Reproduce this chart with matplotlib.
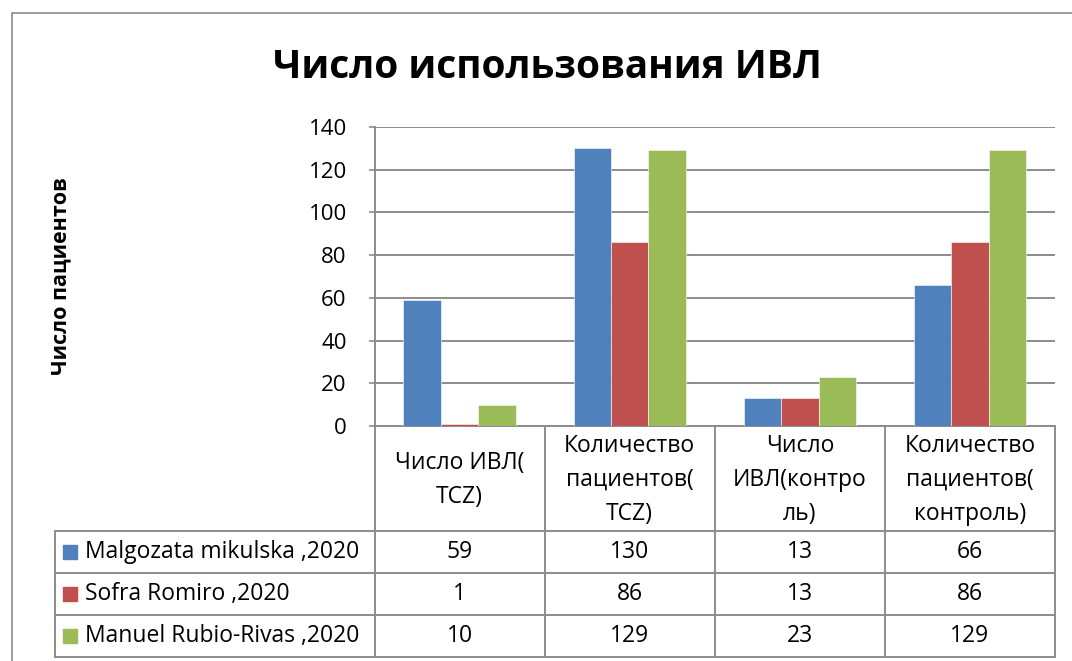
import matplotlib.pyplot as plt
from matplotlib.patches import Rectangle

plt.rcParams['font.family'] = ['Open Sans', 'DejaVu Sans']

# data
categories = ["Число ИВЛ(\nTCZ)", "Количество\nпациентов(\nTCZ)",
              "Число\nИВЛ(контро\nль)", "Количество\nпациентов(\nконтроль)"]
series_names = ["Malgozata mikulska ,2020", "Sofra Romiro ,2020",
                "Manuel Rubio-Rivas ,2020"]
mikulska = [59, 130, 13, 66]
romiro = [1, 86, 13, 86]
rubio = [10, 129, 23, 129]
colors = ["#4F81BD", "#C0504D", "#9BBB59"]
yticks = [0, 20, 40, 60, 80, 100, 120, 140]

series = [mikulska, romiro, rubio]

W, H = 1072, 661
fig = plt.figure(figsize=(W / 100, H / 100), dpi=100)

# outer chart border (cut off at right/bottom like the screenshot)
fig.patches.append(Rectangle((12 / W, -0.1), 1.2, 1.1 - 13 / H, transform=fig.transFigure,
                             fill=False, edgecolor="#8a8a8a", lw=1.2))

left, right, top, bottom = 374.5, 1055, 127, 426
ax = fig.add_axes([left / W, 1 - bottom / H, (right - left) / W, (bottom - top) / H])

n = len(categories)
bw = 0.22
for k, vals in enumerate(series):
    xs = [i + (k - 1) * bw for i in range(n)]
    ax.bar(xs, vals, width=bw, color=colors[k], edgecolor="white", linewidth=0.4, zorder=3)

ax.set_xlim(-0.5, n - 0.5)
ax.set_ylim(0, 140)
ax.set_yticks(yticks)
ax.set_xticks([])
ax.yaxis.grid(True, color="#8c8c8c", linewidth=1.4, zorder=0)
for s in ["top", "right"]:
    ax.spines[s].set_visible(False)
for s in ["left", "bottom"]:
    ax.spines[s].set_color("#8c8c8c")
    ax.spines[s].set_linewidth(1.4)
ax.tick_params(axis="y", length=4, color="#8c8c8c", width=1.2, pad=16, labelsize=16)

fig.text(547 / W, 1 - 78 / H, "Число использования ИВЛ", ha="center", va="baseline",
         fontsize=28, fontweight="bold")
fig.text(61 / W, 1 - 276 / H, "Число пациентов", rotation=90, ha="center", va="center",
         fontsize=15.5, fontweight="bold")

# data table under the axis
ph = bottom - top
pw = right - left
def ay(p):
    return (bottom - p) / ph
def ax_(p):
    return (p - left) / pw

row_lines = [531, 573, 615, 657]
tab_left = 55
fs = 16.5
lc = "#8c8c8c"
kw = dict(transform=ax.transAxes, clip_on=False, color=lc, lw=1.4)
# vertical lines for category columns
for i in range(n + 1):
    ax.plot([i / n, i / n], [0, ay(row_lines[-1])], **kw)
ax.plot([ax_(tab_left), ax_(tab_left)], [ay(row_lines[0]), ay(row_lines[-1])], **kw)
for p in row_lines:
    ax.plot([ax_(tab_left), 1], [ay(p), ay(p)], **kw)

for i, c in enumerate(categories):
    ax.text((i + 0.5) / n, ay(480), c, transform=ax.transAxes, ha="center", va="center",
            fontsize=fs, linespacing=1.55)

for k, (name, vals) in enumerate(zip(series_names, series)):
    yc = ay((row_lines[k] + row_lines[k + 1]) / 2)
    ax.plot([ax_(70)], [yc], marker="s", markersize=9.5, color=colors[k],
            transform=ax.transAxes, clip_on=False, linestyle="none")
    ax.text(ax_(85), yc, name, transform=ax.transAxes, ha="left", va="center", fontsize=fs)
    for i, v in enumerate(vals):
        ax.text((i + 0.5) / n, yc, str(v), transform=ax.transAxes, ha="center", va="center",
                fontsize=fs)

fig.savefig("out.png", dpi=100)
